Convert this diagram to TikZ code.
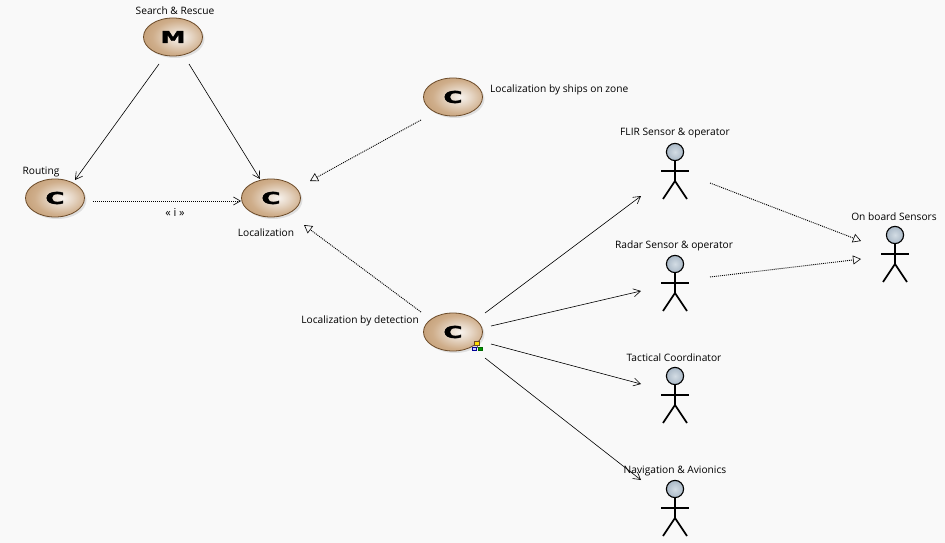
\documentclass[tikz,border=0pt]{standalone}
\usepackage{fontspec}
\setmainfont{Open Sans}
\usetikzlibrary{arrows.meta,shadings,calc,shapes.geometric}
\definecolor{bgc}{HTML}{F9F9F9}
\definecolor{tanA}{HTML}{F8F3EE}
\definecolor{tanB}{HTML}{E6D6C5}
\definecolor{tanC}{HTML}{CFAE8B}
\definecolor{tanD}{HTML}{BC9469}
\definecolor{rimc}{HTML}{6B4A28}
\definecolor{headc}{HTML}{A9B8C6}
\definecolor{headin}{HTML}{D3DCE4}
\pgfdeclareradialshading{compshade}{\pgfpoint{6bp}{0bp}}{color(0bp)=(tanA); color(10bp)=(tanB); color(22bp)=(tanC); color(38bp)=(tanD); color(100bp)=(tanD)}
\newfontfamily\glyphfont[FakeBold=1.6]{DejaVu Sans Bold}
\tikzset{
  x=1pt,y=-1pt,
  lbl/.style={font=\fontsize{10.2}{12}\selectfont,inner sep=0pt,text=black},
  compo/.style={ellipse,minimum width=59pt,minimum height=38pt,inner sep=0pt,draw=rimc,line width=0.8pt,shading=compshade},
  shade blob/.style={ellipse,minimum width=59pt,minimum height=38pt,fill=black,opacity=0.10,inner sep=0pt},
  actorbox/.style={minimum width=28pt,minimum height=56pt,inner sep=0pt},
  use/.style={draw=black,line width=0.6pt,-{Straight Barb[length=7pt,width=8pt,line width=0.6pt]}},
  impl/.style={draw=black,line width=0.9pt,dash pattern=on 1pt off 1pt,-{Triangle[open,length=8pt,width=9pt,line width=0.6pt,fill=bgc,sep=0pt]}},
  dep/.style={draw=black,line width=0.9pt,dash pattern=on 1pt off 1pt,-{Straight Barb[length=7pt,width=8pt,line width=0.6pt]}},
}
\newcommand{\actorfig}[2]{%
  \node[actorbox] (#1) at (#2) {};
  \draw[line width=1.9pt] ($(#1.center)+(0,-19)$) -- ($(#1.center)+(0,10)$);
  \draw[line width=1.6pt] ($(#1.center)+(-14,0)$) -- ($(#1.center)+(14,0)$);
  \draw[line width=1.7pt] ($(#1.center)+(-12,28)$) -- ($(#1.center)+(0,10)$) -- ($(#1.center)+(12,28)$);
  \draw[black,line width=1.1pt,inner color=headin,outer color=headc] ($(#1.center)+(0,-19)$) circle[radius=8.6pt];
}
\newcommand{\compnode}[4]{%
  \node[shade blob] at ($(#2)+(2,2)$) {};
  \node[compo] (#1) at (#2) {\scalebox{#4}[0.82]{\fontsize{20}{20}\selectfont\glyphfont #3}};
}
\begin{document}
\begin{tikzpicture}
\path[use as bounding box,fill=bgc] (0,0) rectangle (945,543);
\compnode{sr}{173,37}{M}{1.25}
\compnode{rt}{55,198}{C}{1.3}
\compnode{lc}{271,198}{C}{1.3}
\compnode{sh}{453,97}{C}{1.3}
\compnode{dt}{453,332}{C}{1.3}
\actorfig{flir}{675,171}
\actorfig{radar}{675,283}
\actorfig{tact}{675,395}
\actorfig{nav}{675,508}
\actorfig{onb}{895,254}
% connectors
\draw[use] ([shift={(-14,27)}]sr.center) -- ([shift={(20,-18)}]rt.center);
\draw[use] ([shift={(16,27)}]sr.center) -- ([shift={(-11,-19)}]lc.center);
\draw[dep] ([shift={(38,3)}]rt.center) -- ([shift={(-30,3)}]lc.center);
\draw[impl] ([shift={(-32,23)}]sh.center) -- ([shift={(39,-17)}]lc.center);
\draw[impl] ([shift={(-32,-20)}]dt.center) -- ([shift={(33,27)}]lc.center);
\draw[use] ([shift={(32,-19)}]dt.center) -- ([shift={(-34,25)}]flir.center);
\draw[use] ([shift={(38,-6)}]dt.center) -- ([shift={(-34,8)}]radar.center);
\draw[use] ([shift={(38,12)}]dt.center) -- ([shift={(-34,-11)}]tact.center);
\draw[use] ([shift={(32,26)}]dt.center) -- ([shift={(-34,-28)}]nav.center);
\draw[impl] ([shift={(35,12)}]flir.center) -- ([shift={(-34,-13)}]onb.center);
\draw[impl] ([shift={(35,-6)}]radar.center) -- ([shift={(-34,5)}]onb.center);
% labels
\node[lbl] (l1) at (175,10.5) {Search \& Rescue};
\node[lbl] (l2) at (41,171.5) {Routing};
\node[lbl] (l3) at (266,232.5) {Localization};
\node[lbl,anchor=west] (l4) at (490,89.5) {Localization by ships on zone};
\node[lbl,anchor=east] (l5) at (419,320.5) {Localization by detection};
\node[lbl] (l6) at (675,133.5) {FLIR Sensor \& operator};
\node[lbl] (l7) at (674,245.5) {Radar Sensor \& operator};
\node[lbl] (l8) at (674,357.5) {Tactical Coordinator};
\node[lbl] (l9) at (675,470.5) {Navigation \& Avionics};
\node[lbl] (l10) at (894,216.5) {On board Sensors};
\node[lbl,font=\fontsize{11}{11}\selectfont] (l11) at (175,212.5) {« i »};
% hierarchy icon
\draw[draw=rimc,fill=yellow!80!orange,line width=0.5pt] (474.5,341.5) rectangle (479.5,345.5);
\draw[draw=black!60,line width=0.4pt] (477,345.5) -- (477,347.5) (474,347.5) -- (480,347.5);
\draw[draw=blue!60!black,fill=blue!20,line width=0.6pt] (472.5,347.5) rectangle (476.5,350.5);
\draw[draw=green!40!black,fill=green!60!black,line width=0.6pt] (478,347.5) rectangle (482.5,350.5);
\end{tikzpicture}
\end{document}
